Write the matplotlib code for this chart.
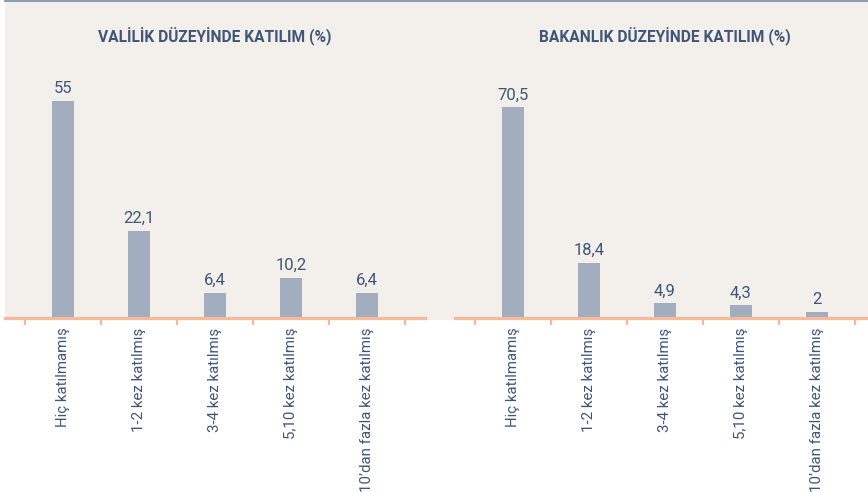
import matplotlib
matplotlib.use("Agg")
import matplotlib.pyplot as plt
from matplotlib.patches import Rectangle
from matplotlib.lines import Line2D

categories = ["Hiç katılmamış", "1-2 kez katılmış", "3-4 kez katılmış",
              "5,10 kez katılmış", "10'dan fazla kez katılmış"]
categories = [c.replace("'", "\u2019") for c in categories]
valilik = [55, 22.1, 6.4, 10.2, 6.4]
bakanlik = [70.5, 18.4, 4.9, 4.3, 2]
titles = ["VALİLİK DÜZEYİNDE KATILIM (%)", "BAKANLIK DÜZEYİNDE KATILIM (%)"]

W, H = 868, 492
BG = "#f3f0eb"
BAR = "#a3adc0"
AXIS = "#f6b99c"
TXT = "#3f5679"
FONT = ["Roboto", "DejaVu Sans"]

plt.rcParams['font.family'] = FONT

fig = plt.figure(figsize=(W / 100, H / 100), dpi=100)
fig.patch.set_facecolor("white")

def fx(px):
    return px / W

def fy(px_from_top):
    return (H - px_from_top) / H

# beige panel background
fig.patches.append(Rectangle((fx(5), fy(320)), fx(W - 5), fy(1) - fy(320),
                             transform=fig.transFigure, facecolor=BG,
                             edgecolor="none", zorder=-2))
fig.lines.append(Line2D([fx(5), 1], [fy(0.6), fy(0.6)], transform=fig.transFigure,
                        color="#8294ae", linewidth=1.3, zorder=-1))

ax_bottom = 318
ax_top = 60
ax_w = 420
specs = [(5, valilik, 65.4, titles[0]), (455, bakanlik, 86.2, titles[1])]

for left, vals, ytop, title in specs:
    ax = fig.add_axes([fx(left), fy(ax_bottom), fx(ax_w), fy(ax_top) - fy(ax_bottom)])
    ax.set_zorder(2)
    ax.set_facecolor("none")
    x = list(range(len(categories)))
    ax.bar(x, vals, width=0.30, color=BAR, zorder=1)
    ax.set_xlim(-0.763, 4.763)
    ax.set_ylim(0, ytop)
    for s in ["top", "left", "right"]:
        ax.spines[s].set_visible(False)
    ax.spines["bottom"].set_color(AXIS)
    ax.spines["bottom"].set_linewidth(2.3)
    ax.spines["bottom"].set_zorder(3)
    ax.set_yticks([])
    ax.set_xticks(x)
    ax.set_xticklabels(categories, rotation=90, fontsize=10.8, color=TXT,
                       ha="center", va="top")
    ax.tick_params(axis="x", which="major", length=0, pad=7)
    ax.set_xticks([i - 0.5 for i in range(len(categories) + 1)], minor=True)
    ax.tick_params(axis="x", which="minor", length=5, width=1.6, color=AXIS,
                   direction="out")
    for xi, v in zip(x, vals):
        lab = ("%g" % v).replace(".", ",")
        ax.annotate(lab, (xi, v), xytext=(0, 5.5), textcoords="offset points",
                    ha="center", va="baseline", fontsize=12, color=TXT)
    fig.text(fx(left + 210), fy(37), title, ha="center", va="center",
             fontsize=11.2, color=TXT, fontweight="bold")

fig.savefig("out.png", dpi=100, facecolor="white")
